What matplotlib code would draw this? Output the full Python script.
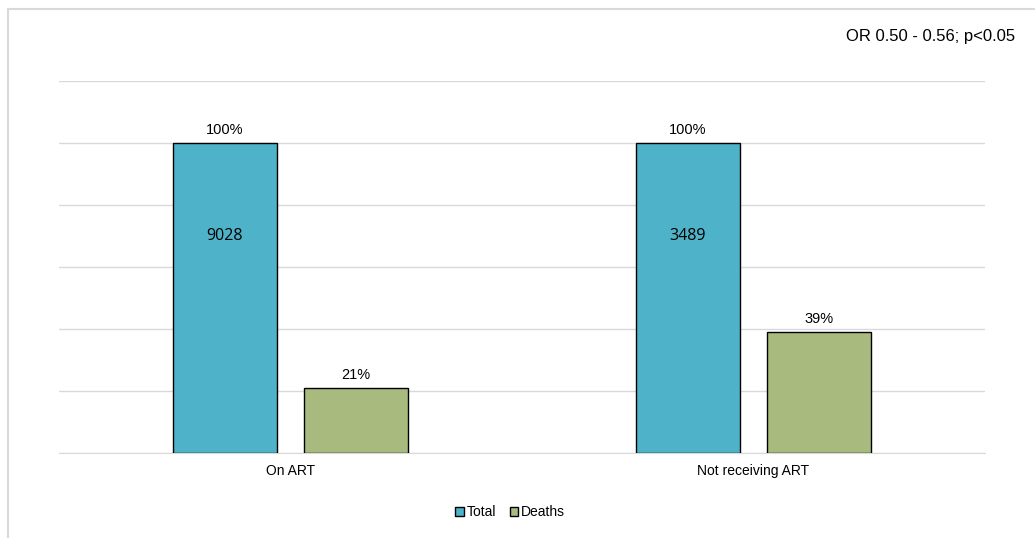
import matplotlib.pyplot as plt
from matplotlib.patches import Rectangle

categories = ['On ART', 'Not receiving ART']
series = ['Total', 'Deaths']
total_pct = [100, 100]
deaths_pct = [21, 39]
total_counts = [9028, 3489]
colors = ['#4EB3C8', '#A8BA7E']
note = 'OR 0.50 - 0.56; p<0.05'

plt.rcParams['font.family'] = ['Liberation Sans', 'DejaVu Sans']

fig = plt.figure(figsize=(10.35, 5.38), dpi=100)
W, H = 1035, 538
ax = fig.add_axes([59 / W, 1 - 453 / H, 926 / W, (453 - 81) / H])

# outer chart frame
fig.patches.append(Rectangle((8 / W, -0.1), 1.2, 1 - 9 / H + 0.1, transform=fig.transFigure,
                             fill=False, edgecolor='#D9D9D9', linewidth=1.5))

x = [0, 1]
w = 0.225
off = 0.142
for i in range(len(categories)):
    ax.bar(x[i] - off, total_pct[i], w, color=colors[0], edgecolor='black', linewidth=1, zorder=3,
           label=series[0] if i == 0 else None)
    ax.bar(x[i] + off, deaths_pct[i], w, color=colors[1], edgecolor='black', linewidth=1, zorder=3,
           label=series[1] if i == 0 else None)
    ax.text(x[i] - off, total_pct[i] + 2, f'{total_pct[i]}%', ha='center', va='bottom', fontsize=10.5)
    ax.text(x[i] + off, deaths_pct[i] + 2, f'{deaths_pct[i]}%', ha='center', va='bottom', fontsize=10.5)
    ax.text(x[i] - off, 70, str(total_counts[i]), ha='center', va='center', fontsize=11.5,
            family=['Open Sans', 'DejaVu Sans'])

ax.set_xlim(-0.5, 1.5)
ax.set_ylim(0, 120)
ax.set_yticks(range(0, 121, 20))
ax.set_yticklabels([])
ax.tick_params(axis='y', length=0)
ax.set_xticks(x)
ax.set_xticklabels(categories, fontsize=10)
ax.tick_params(axis='x', length=0, pad=8)
ax.grid(axis='y', color='#D9D9D9', linewidth=1, zorder=0)
for s in ['top', 'right', 'left']:
    ax.spines[s].set_visible(False)
ax.spines['bottom'].set_color('#D9D9D9')

fig.text(1015 / W, 1 - 36 / H, note, ha='right', va='center', fontsize=12)

fig.legend(loc='center', bbox_to_anchor=(510 / W, 1 - 512 / H), ncol=2, frameon=False, fontsize=10,
           handlelength=0.6, handleheight=0.6, handletextpad=0.2, columnspacing=1.0)

fig.savefig('out.png', dpi=100)
